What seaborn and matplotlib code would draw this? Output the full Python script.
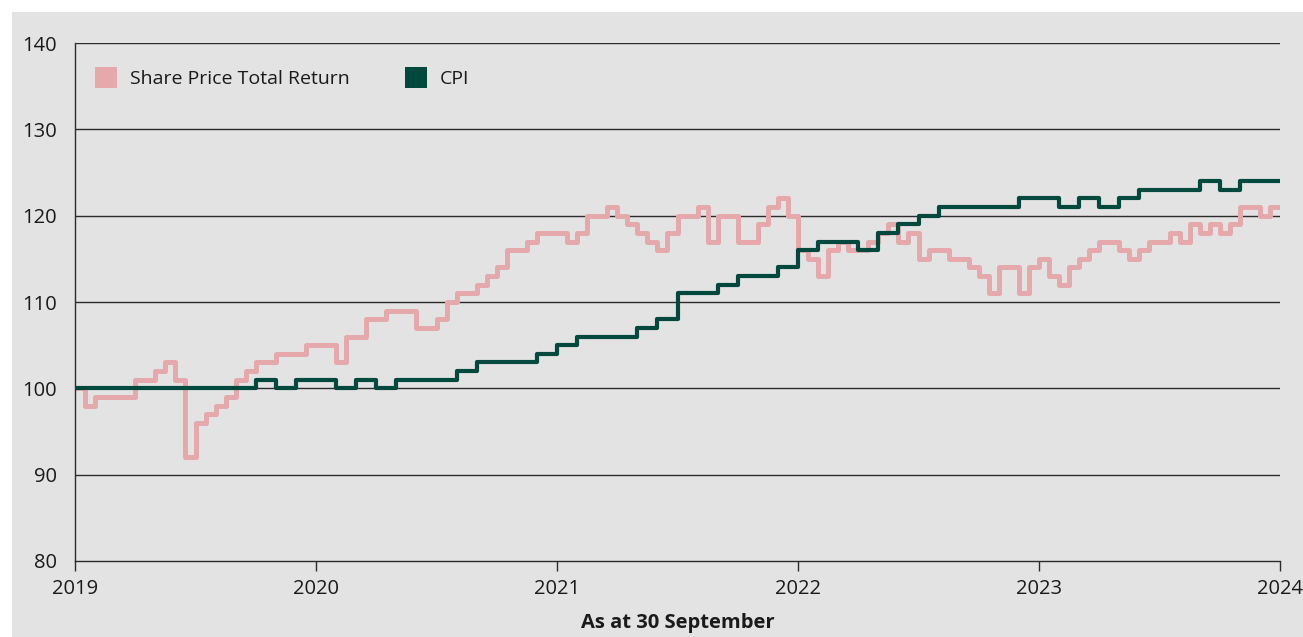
import numpy as np
import pandas as pd
import seaborn as sns
import matplotlib.pyplot as plt
from matplotlib.patches import Rectangle, Patch

# Share price total return, every half month (Sep 2019 -> Sep 2024)
share_price = [
    100, 98, 99, 99, 99, 99, 101, 101, 102, 103, 101, 92, 96, 97, 98, 99,
    101, 102, 103, 103, 104, 104, 104, 105, 105, 105, 103, 106, 106, 108, 108, 109,
    109, 109, 107, 107, 108, 110, 111, 111, 112, 113, 114, 116, 116, 117, 118, 118,
    118, 117, 118, 120, 120, 121, 120, 119, 118, 117, 116, 118, 120, 120, 121, 117,
    120, 120, 117, 117, 119, 121, 122, 120, 116, 115, 113, 116, 117, 116, 116, 117,
    118, 119, 117, 118, 115, 116, 116, 115, 115, 114, 113, 111, 114, 114, 111, 114,
    115, 113, 112, 114, 115, 116, 117, 117, 116, 115, 116, 117, 117, 118, 117, 119,
    118, 119, 118, 119, 121, 121, 120, 121, 121,
]

# CPI, monthly (Sep 2019 -> Sep 2024)
cpi = [
    100, 100, 100, 100, 100, 100, 100, 100, 100, 101, 100, 101, 101, 100, 101, 100,
    101, 101, 101, 102, 103, 103, 103, 104, 105, 106, 106, 106, 107, 108, 111, 111,
    112, 113, 113, 114, 116, 117, 117, 116, 118, 119, 120, 121, 121, 121, 121, 122,
    122, 121, 122, 121, 122, 123, 123, 123, 124, 123, 124, 124, 124,
]

years = [2019, 2020, 2021, 2022, 2023, 2024]
y_ticks = [80, 90, 100, 110, 120, 130, 140]

pink = "#e6a9ab"
green = "#00493c"
bg = "#e3e3e3"

share_df = pd.DataFrame({"x": 2019 + np.arange(len(share_price)) / 24, "value": share_price})
cpi_df = pd.DataFrame({"x": 2019 + np.arange(len(cpi)) / 12, "value": cpi})

plt.rcParams["font.family"] = ["Open Sans", "DejaVu Sans"]

fig = plt.figure(figsize=(13.03, 6.37), dpi=100, facecolor="white")
fig.patches.append(Rectangle((12 / 1303, 0), 1, 1 - 12 / 637, transform=fig.transFigure,
                             facecolor=bg, edgecolor="none", zorder=-10))
ax = fig.add_axes([75 / 1303, 1 - 561 / 637, (1280 - 75) / 1303, (561 - 43) / 637])
ax.set_facecolor(bg)

for yv in y_ticks[1:]:
    ax.axhline(yv, color="#2b2b2b", lw=1.0, zorder=1)

sns.lineplot(data=share_df, x="x", y="value", ax=ax, color=pink, lw=3.6,
             drawstyle="steps-post", zorder=2)
sns.lineplot(data=cpi_df, x="x", y="value", ax=ax, color=green, lw=3.0,
             drawstyle="steps-post", zorder=3)

ax.set_xlim(2019, 2024)
ax.set_ylim(80, 140)
ax.set_xticks(years)
ax.set_xticklabels([str(y) for y in years])
ax.set_yticks(y_ticks)
ax.tick_params(axis="x", direction="out", length=7, width=1, color="#2b2b2b",
               labelsize=14.5, labelcolor="#1a1a1a", pad=6)
ax.tick_params(axis="y", length=0, labelsize=14.5, labelcolor="#1a1a1a", pad=13)

for side in ["top", "right"]:
    ax.spines[side].set_visible(False)
for side in ["left", "bottom"]:
    ax.spines[side].set_color("#2b2b2b")
    ax.spines[side].set_linewidth(1.0)

ax.set_xlabel("As at 30 September", fontsize=14.5, fontweight="bold", color="#1a1a1a", labelpad=10)
ax.set_ylabel("")

handles = [Patch(facecolor=pink, edgecolor="none"), Patch(facecolor=green, edgecolor="none")]
ax.legend(handles, ["Share Price Total Return", "CPI"], loc="upper left", ncol=2,
          frameon=False, fontsize=14, handlelength=1.13, handleheight=1.25,
          handletextpad=0.67, columnspacing=2.8, bbox_to_anchor=(0.0024, 0.987),
          labelcolor="#1a1a1a")

fig.savefig("out.png", dpi=100, facecolor=fig.get_facecolor())
